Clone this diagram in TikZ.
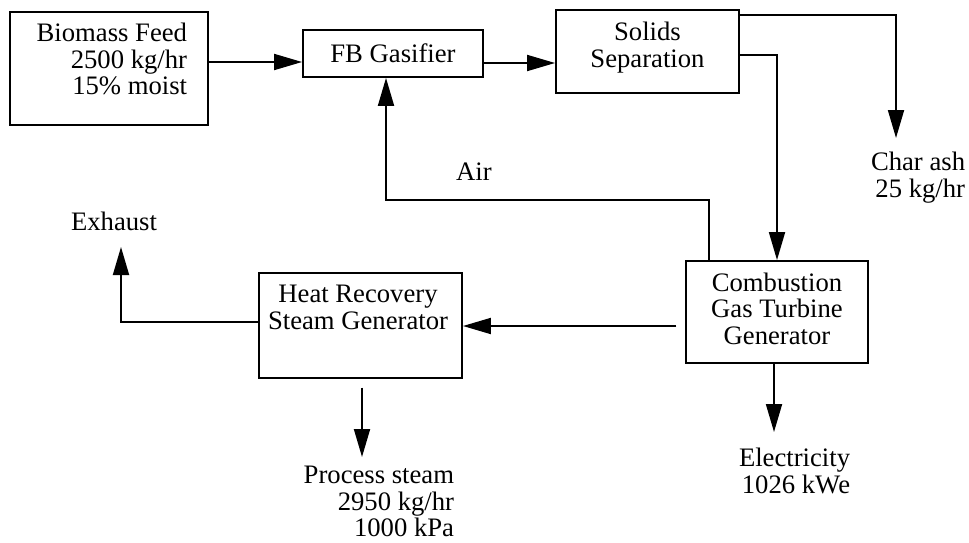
\documentclass[tikz,border=0pt]{standalone}
\usepackage{fontspec}
\setmainfont{Liberation Serif}
\usetikzlibrary{arrows.meta,positioning}

\begin{document}
\begin{tikzpicture}[x=0.75pt, y=-0.75pt, line width=1.4pt,
    every node/.style={font=\fontsize{20}{20}\selectfont, inner sep=0pt},
    unit/.style={draw, rectangle, align=center},
    lbl/.style={align=right, anchor=north east},
    flow/.style={-{Triangle[length=21pt, width=12pt]}}]
    \useasboundingbox (0,0) rectangle (969,542);
    % process units
    \node[unit, minimum width=148.5pt, minimum height=84.75pt] (feed) at (109,68.5) {};
    \node[lbl] (feedtext) at (188,22) {Biomass Feed\\2500 kg/hr\\15\% moist};
    \node[unit, minimum width=135pt, minimum height=35.25pt] (gas) at (393,53.5) {FB Gasifier};
    \node[unit, minimum width=137.25pt, minimum height=62.25pt, text depth=10pt] (sep) at (647.5,51.5) {Solids\\Separation};
    \node[unit, minimum width=136.5pt, minimum height=76.5pt, text depth=5pt] (comb) at (777,312) {Combustion\\Gas Turbine\\Generator};
    \node[unit, minimum width=152.25pt, minimum height=78.75pt] (hrsg) at (360.5,325.5) {};
    \node[align=center, anchor=north] (hrsgtext) at (358,284) {Heat Recovery\\Steam Generator};
    % outlets
    \coordinate (ash) at (896,138);
    \coordinate (exhaust) at (121,247);
    \coordinate (steam) at (362,457);
    \coordinate (power) at (774,432);
    \node[lbl] (ashlbl) at (966,151) {Char ash\\25 kg/hr};
    \node[anchor=base] (exhlbl) at (114,230) {Exhaust};
    \node[lbl] (steamlbl) at (455,465) {Process steam\\2950 kg/hr\\1000 kPa};
    \node[lbl] (powerlbl) at (851,447) {Electricity\\1026 kWe};
    \node[anchor=base] (airlbl) at (474,180) {Air};
    % streams
    \draw[flow] (feed.east |- 0,62) -- (gas.west |- 0,62);
    \draw[flow] (gas.east |- 0,63) -- (sep.west |- 0,63);
    \draw[flow] (sep.east |- 0,15) -| (ash);
    \draw[flow] (sep.east |- 0,55) -| (comb.north);
    \draw[flow] (comb.north -| 709,0) -- (709,200) -| (gas.south -| 386,0);
    \draw[flow, shorten <=6.5pt] (comb.west |- 0,326) -- (hrsg.east |- 0,326);
    \draw[flow] (hrsg.west |- 0,322) -| (exhaust);
    \draw[flow, shorten <=6.5pt] (hrsg.south -| steam) -- (steam);
    \draw[flow] (comb.south -| power) -- (power);
\end{tikzpicture}
\end{document}
